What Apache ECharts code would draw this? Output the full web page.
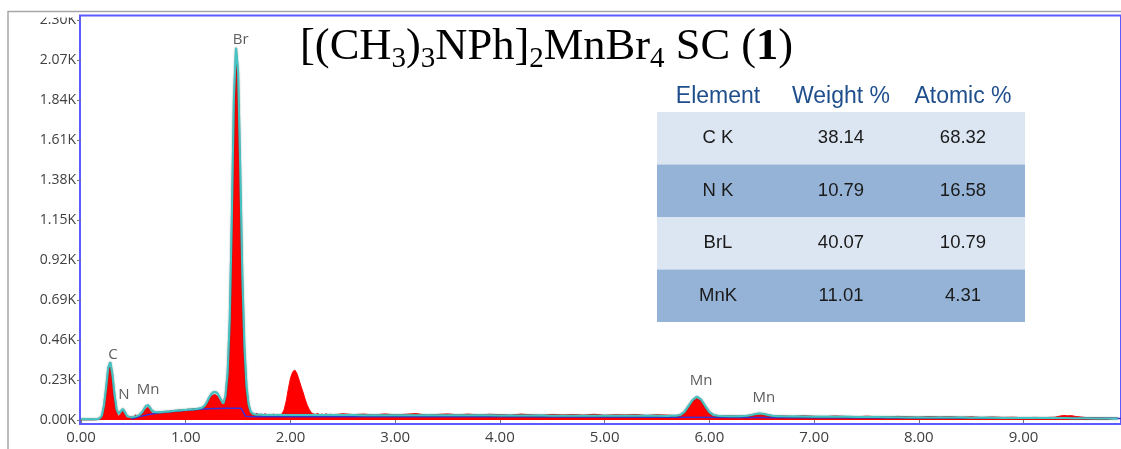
<!DOCTYPE html>
<html><head><meta charset="utf-8">
<script src="https://cdn.jsdelivr.net/npm/echarts@6/dist/echarts.min.js"></script>
<style>html,body{margin:0;padding:0;background:#fff}#c{width:1121px;height:449px}</style>
</head><body><div id="c"></div>
<script>
// Energy (keV) sampling of the spectrum
const energy = [
0.00,0.04,0.08,0.12,0.16,0.18,0.20,0.22,0.24,0.26,
0.28,0.30,0.32,0.34,0.36,0.38,0.40,0.42,0.44,0.46,
0.48,0.50,0.52,0.54,0.56,0.58,0.60,0.62,0.64,0.66,
0.68,0.70,0.72,0.74,0.76,0.78,0.80,0.82,0.84,0.86,
0.88,0.90,0.92,0.94,0.96,0.98,1.00,1.02,1.04,1.06,
1.08,1.10,1.12,1.14,1.16,1.18,1.20,1.22,1.24,1.26,
1.28,1.30,1.32,1.34,1.36,1.38,1.40,1.42,1.44,1.46,
1.48,1.50,1.52,1.54,1.56,1.58,1.60,1.62,1.64,1.66,
1.68,1.70,1.72,1.74,1.76,1.78,1.80,1.82,1.84,1.86,
1.88,1.90,1.92,1.94,1.96,1.98,2.00,2.02,2.04,2.06,
2.08,2.10,2.12,2.14,2.16,2.18,2.20,2.22,2.24,2.26,
2.28,2.30,2.32,2.34,2.36,2.38,2.40,2.5,2.6,2.7,
2.8,2.9,3.0,3.1,3.2,3.3,3.4,3.5,3.6,3.7,
3.8,3.9,4.0,4.1,4.2,4.3,4.4,4.5,4.6,4.7,
4.8,4.9,5.0,5.1,5.2,5.3,5.4,5.5,5.6,5.64,
5.68,5.72,5.76,5.80,5.84,5.88,5.92,5.96,6.00,6.04,
6.08,6.12,6.2,6.3,6.36,6.40,6.44,6.48,6.52,6.56,
6.60,6.64,6.7,6.8,6.9,7.0,7.1,7.2,7.3,7.4,
7.5,7.6,7.7,7.8,7.9,8.0,8.1,8.2,8.3,8.4,
8.5,8.6,8.7,8.8,8.9,9.0,9.1,9.2,9.3,9.34,
9.38,9.42,9.46,9.50,9.6,9.7,9.8,9.9
];
// Measured counts (red filled spectrum)
const counts = [
0,0,0,0,2,6,18,70,170,280,
315,240,125,45,18,38,50,32,12,14,
20,12,30,18,24,34,48,66,72,54,
40,36,40,44,42,47,45,50,48,52,
50,55,53,58,55,60,57,62,60,63,
64,62,66,65,70,76,92,116,136,143,
146,138,120,98,88,125,250,540,1100,1790,
2090,1950,1400,800,400,180,80,42,35,30,
38,28,33,30,36,27,32,30,34,28,
30,26,36,60,110,180,240,275,288,270,
235,195,160,120,85,60,42,35,32,38,
30,34,28,36,30,33,29,36,31,34,
29,35,30,33,37,28,32,35,30,34,
29,33,31,28,34,30,27,32,29,31,
28,33,27,30,29,31,26,30,28,26,
22,30,45,80,112,124,110,75,42,28,
25,23,24,22,25,28,33,36,33,28,
24,22,23,20,24,21,19,23,20,18,
22,19,17,21,18,16,20,17,19,15,
18,14,17,15,16,13,15,14,16,22,
26,24,25,20,14,13,12,11
];
// Fitted spectrum (cyan)
const fit = [
4,4,4,4,6,10,26,85,185,300,
333,260,145,60,35,50,63,45,22,18,
16,18,20,24,30,42,60,80,86,70,
52,46,44,44,45,46,47,48,49,50,
52,53,54,55,56,57,58,59,60,61,
62,63,65,67,72,82,100,125,145,158,
162,155,135,112,95,140,270,570,1150,1850,
2140,2000,1450,840,420,195,90,48,36,32,
30,30,30,29,29,29,29,29,29,29,
29,29,29,29,29,29,29,29,29,29,
29,29,29,29,29,29,29,29,29,29,
29,29,29,29,29,29,29,29,29,28,
28,28,28,28,28,27,27,27,27,27,
27,27,26,26,26,26,26,25,25,25,
25,25,25,24,24,24,24,24,23,24,
25,28,45,80,115,134,118,80,45,28,
24,23,22,22,24,28,34,38,35,29,
24,22,21,20,20,19,19,18,18,17,
17,17,16,16,15,15,15,14,14,14,
13,13,13,12,12,12,11,11,11,11,
11,11,10,10,10,9,9,9
];
// Background (blue)
const bgEnergy = [0.48,0.55,0.65,0.75,0.85,1.00,1.20,1.40,1.53,1.57,1.65,2.5,4.0,5.5,7.0,8.5,9.93];
const bgCounts = [5,18,32,42,48,56,64,67,67,22,19,19,18,16,13,11,9];

// Peak labels
const peakNames = ['C','N','Mn','Br','Mn','Mn'];
const peakLabelE = [0.305,0.41,0.64,1.525,5.92,6.52];
const peakLabelY = [374,144,172,2185,224,126];

// Axis ticks
const yMax = 2300, yStep = 230;
const xMax = 9.93, xStep = 1;

// Table
const tableHeader = ['Element','Weight %','Atomic %'];
const tableElements = ['C K','N K','BrL','MnK'];
const weightPct = ['38.14','10.79','40.07','11.01'];
const atomicPct = ['68.32','16.58','10.79','4.31'];

const zip = (xs, ys) => xs.map((x, i) => [x, ys[i]]);

const tbl = {x: 657, w: 368, top: 112, rowH: 52.5, headY: 97, cols: [718, 841, 963]};
const graphics = [];
graphics.push({type:'rect', z:100, shape:{x:10, y:12, width:68, height:5.5}, style:{fill:'#fff'}});
graphics.push({type:'rect', z:101, shape:{x:8, y:11.5, width:1200, height:500}, style:{fill:'none', stroke:'#a6a6a6', lineWidth:1.5}});
tableElements.forEach((el, i) => {
  graphics.push({type:'rect', z:50, shape:{x:tbl.x, y:tbl.top + i*tbl.rowH, width:tbl.w, height:tbl.rowH},
    style:{fill: i % 2 === 0 ? '#dce6f2' : '#95b3d7'}});
  [el, weightPct[i], atomicPct[i]].forEach((t, j) => {
    graphics.push({type:'text', z:51, style:{text:t, x:tbl.cols[j], y:tbl.top + (i+0.5)*tbl.rowH,
      textAlign:'center', textVerticalAlign:'middle', align:'center', verticalAlign:'middle',
      font:'18.5px "Liberation Sans", Arial, sans-serif', fill:'#1a1a1a'}});
  });
});
tableHeader.forEach((t, j) => {
  graphics.push({type:'text', z:51, style:{text:t, x:tbl.cols[j], y:tbl.headY,
    textAlign:'center', textVerticalAlign:'middle', align:'center', verticalAlign:'middle',
    font:'23px "Liberation Sans", Arial, sans-serif', fill:'#1f4e8c'}});
});

const serif = '"Liberation Serif", "Times New Roman", serif';
const chart = echarts.init(document.getElementById('c'), null, {renderer:'canvas'});
chart.setOption({
  animation: false,
  backgroundColor: '#fff',
  title: {
    text: '{n|[(CH}{s|3}{n|)}{s|3}{n|NPh]}{s|2}{n|MnBr}{s|4}{n| SC (}{b|1}{n|)}',
    left: 300, top: 23, padding: 0,
    textStyle: {
      fontWeight: 'normal',
      rich: {
        n: {fontFamily:serif, fontSize:44.5, lineHeight:48, color:'#000', fontWeight:'normal'},
        b: {fontFamily:serif, fontSize:44.5, lineHeight:48, color:'#000', fontWeight:'bold'},
        s: {fontFamily:serif, fontSize:29, lineHeight:29, padding:[24,0,0,0], color:'#000', fontWeight:'normal'}
      }
    }
  },
  grid: [
    {left: 81, right: -3, top: 20, bottom: 29},
    {left: 80, right: -3, top: 15.5, bottom: 25, show: true, borderColor: '#5b5bff', borderWidth: 2, backgroundColor: 'transparent'}
  ],
  xAxis: [
    {type:'value', gridIndex:0, min:0, max:xMax, interval:xStep, offset:4,
     axisLine:{show:false}, axisTick:{show:true, length:3, lineStyle:{color:'#777'}},
     splitLine:{show:false},
     axisLabel:{formatter: v => v.toFixed(2), margin:6, fontSize:15, color:'#404040', fontFamily:'"Open Sans", sans-serif', showMaxLabel:false}},
    {type:'value', gridIndex:1, show:false, min:0, max:1}
  ],
  yAxis: [
    {type:'value', gridIndex:0, min:0, max:yMax, interval:yStep,
     axisLine:{show:false}, axisTick:{show:true, length:4, lineStyle:{color:'#777'}},
     splitLine:{show:false},
     axisLabel:{formatter: v => (v/1000).toFixed(2) + 'K', margin:5, fontSize:14, color:'#404040', fontFamily:'"Open Sans", sans-serif'}},
    {type:'value', gridIndex:1, show:false, min:0, max:1}
  ],
  graphic: graphics,
  series: [
    {type:'line', name:'counts', xAxisIndex:0, yAxisIndex:0, data: zip(energy, counts), symbol:'none', z:2,
     lineStyle:{color:'#ff0000', width:1}, areaStyle:{color:'#ff0000', opacity:1}},
    {type:'line', name:'background', xAxisIndex:0, yAxisIndex:0, data: zip(bgEnergy, bgCounts), symbol:'none', z:3,
     lineStyle:{color:'#3a2fd6', width:1.5}},
    {type:'line', name:'fit', xAxisIndex:0, yAxisIndex:0, data: zip(energy, fit), symbol:'none', z:4,
     lineStyle:{color:'#45c2c2', width:2, shadowColor:'rgba(20,90,90,0.7)', shadowBlur:1.5}},
    {type:'scatter', name:'labels', xAxisIndex:0, yAxisIndex:0, z:5, symbolSize:1, itemStyle:{color:'rgba(0,0,0,0)'},
     data: peakNames.map((n, i) => ({name:n, value:[peakLabelE[i], peakLabelY[i]]})),
     label:{show:true, position:'inside', formatter: p => p.name, fontSize:15, color:'#333', fontFamily:'"Open Sans", sans-serif'}}
  ]
});
</script>
</body></html>
